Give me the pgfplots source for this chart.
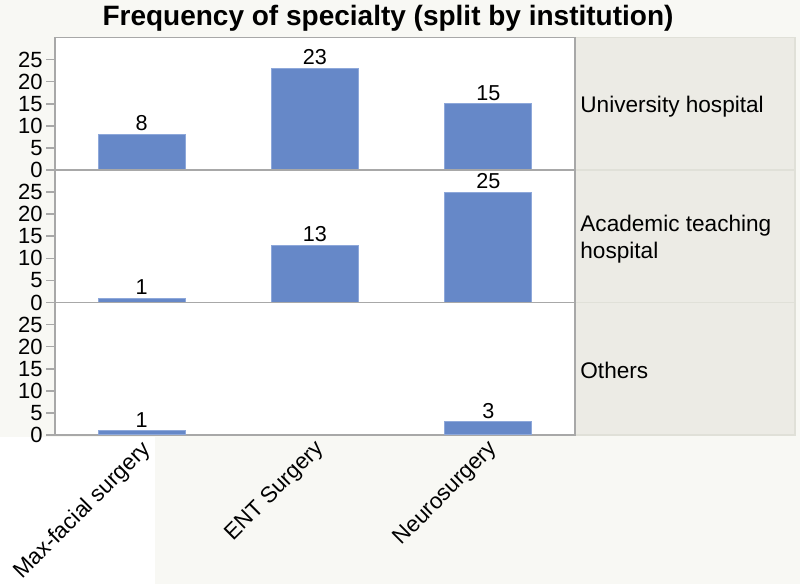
\documentclass[border=0pt]{standalone}
\usepackage{pgfplots}
\pgfplotsset{compat=1.18}
\usepackage{fontspec}
\setmainfont{Liberation Sans}
\definecolor{bgc}{HTML}{F8F8F4}
\definecolor{stripc}{HTML}{ECEBE5}
\definecolor{stripedge}{HTML}{E0E0D8}
\definecolor{axisc}{HTML}{A8A8A8}
\definecolor{barc}{HTML}{6688C8}
\definecolor{baredge}{HTML}{8EA8DA}
\pgfplotsset{
  panel/.style={
    at={(27.5pt,#1)}, anchor=south west, scale only axis,
    width=260pt, height=66.25pt,
    xmin=-0.5, xmax=2.5, ymin=0, ymax=30,
    ytick={0,5,10,15,20,25}, xtick={0,1,2}, xticklabels={},
    axis line style={draw=axisc, line width=0.8pt},
    major tick style={draw=axisc, line width=0.8pt},
    tick align=outside, major tick length=4.5pt,
    xtick style={draw=none},
    ytick pos=left,
    axis background/.style={fill=white},
    /pgf/number format/assume math mode=true,
    y tick label style={font=\fontsize{11}{12}\selectfont, inner sep=1.5pt},
    ybar, bar width=43.5pt,
    nodes near coords,
    every node near coord/.append style={font=\fontsize{10.8}{12}\selectfont, text=black, inner sep=1.5pt},
  },
  barsty/.style={fill=barc, draw=baredge, line width=0.5pt},
}
\begin{document}
\begin{tikzpicture}
\useasboundingbox (0,0) rectangle (400pt,292pt);
\fill[bgc] (0,0) rectangle (400pt,292pt);
\fill[white] (0,0) rectangle (77.5pt,73.5pt);
% strip panels
\filldraw[fill=stripc, draw=stripedge, line width=0.8pt] (287.5pt,207pt) rectangle (397.5pt,273.25pt);
\filldraw[fill=stripc, draw=stripedge, line width=0.8pt] (287.5pt,140.75pt) rectangle (397.5pt,207pt);
\filldraw[fill=stripc, draw=stripedge, line width=0.8pt] (287.5pt,74.5pt) rectangle (397.5pt,140.75pt);
\node[anchor=west, font=\fontsize{11.3}{13.5}\selectfont, inner sep=0pt] at (290pt,238.6pt) {University hospital};
\node[anchor=west, align=left, font=\fontsize{11.3}{13.5}\selectfont, inner sep=0pt] at (290pt,172.4pt) {Academic teaching\\hospital};
\node[anchor=west, font=\fontsize{11.3}{13.5}\selectfont, inner sep=0pt] at (290pt,106.6pt) {Others};
% title
\node[font=\fontsize{14}{16}\selectfont\bfseries] at (194pt,283pt) {Frequency of specialty (split by institution)};

\begin{axis}[panel=207pt]
\addplot[barsty] coordinates {(0,8) (1,23) (2,15)};
\end{axis}

\begin{axis}[panel=140.75pt]
\addplot[barsty] coordinates {(0,1) (1,13) (2,25)};
\end{axis}

\begin{axis}[panel=74.5pt,
  xticklabels={Max-facial surgery, ENT Surgery, Neurosurgery},
  x tick label style={rotate=45, anchor=north east, font=\fontsize{11.2}{13}\selectfont, inner sep=0pt, xshift=1.5pt, yshift=2.5pt},
]
% ENT Surgery has 0 in this group: no bar is drawn
\addplot[barsty] coordinates {(0,1) (2,3)};
\end{axis}
\end{tikzpicture}
\end{document}
